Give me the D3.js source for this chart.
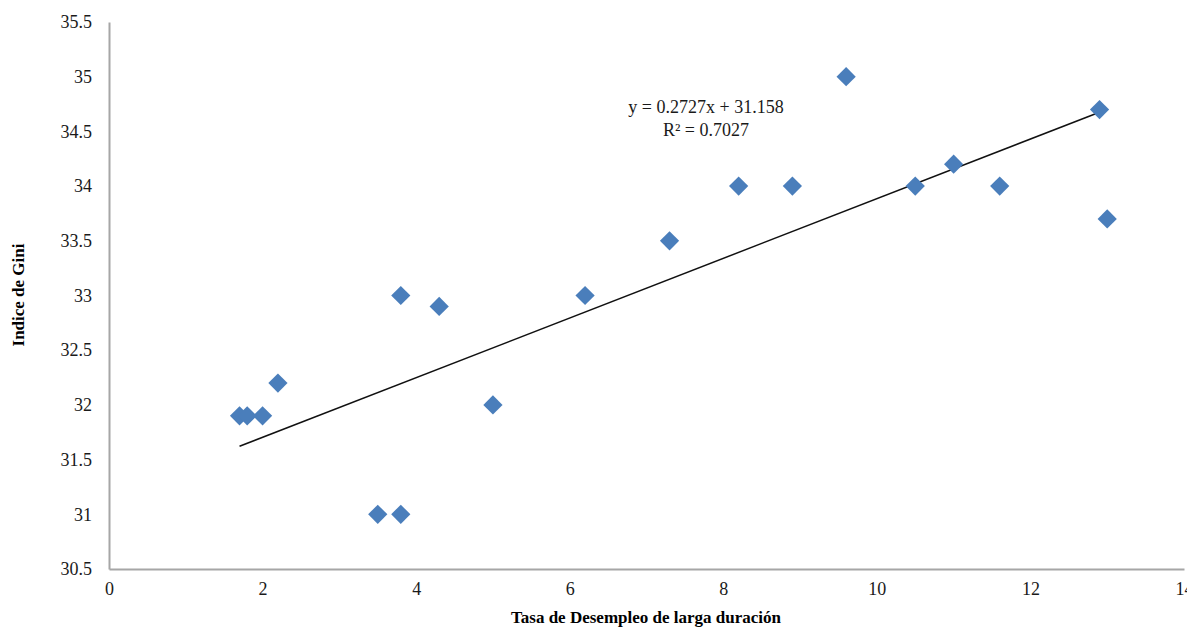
<!doctype html>
<html>
<head>
<script src="https://d3js.org/d3.v7.min.js"></script>
<style>
  body { margin: 0; background: #fff; }
  text { font-family: "Liberation Serif", "Times New Roman", serif; }
</style>
</head>
<body>
<svg width="1187" height="628"></svg>
<script>
// data
var desempleo = [1.7, 1.8, 2.0, 2.2, 3.5, 3.8, 3.8, 4.3, 5.0, 6.2, 7.3, 8.2, 8.9, 9.6, 10.5, 11.0, 11.6, 12.9, 13.0];
var gini      = [31.9, 31.9, 31.9, 32.2, 31.0, 31.0, 33.0, 32.9, 32.0, 33.0, 33.5, 34.0, 34.0, 35.0, 34.0, 34.2, 34.0, 34.7, 33.7];
var xTicks = [0, 2, 4, 6, 8, 10, 12, 14];
var yTicks = [30.5, 31, 31.5, 32, 32.5, 33, 33.5, 34, 34.5, 35, 35.5];
var slope = 0.2727, intercept = 31.158;
var eqLines = ["y = 0.2727x + 31.158", "R² = 0.7027"];

var svg = d3.select("svg");
var plotLeft = 109, plotRight = 1184, plotTop = 22, plotBottom = 569;

var x = d3.scaleLinear().domain([0, 14]).range([plotLeft, plotRight]);
var y = d3.scaleLinear().domain([30.5, 35.5]).range([plotBottom, plotTop]);

// axes
var xAxis = svg.append("g")
  .attr("transform", "translate(0," + plotBottom + ")")
  .call(d3.axisBottom(x).tickValues(xTicks).tickSize(0).tickPadding(13).tickFormat(d3.format("d")));
var yAxis = svg.append("g")
  .attr("transform", "translate(" + plotLeft + ",0)")
  .call(d3.axisLeft(y).tickValues(yTicks).tickSize(0).tickPadding(17).tickFormat(function(d) { return String(d); }));

[xAxis, yAxis].forEach(function(a) {
  a.select(".domain").attr("stroke", "#a6a6a6").attr("stroke-width", 2);
  a.selectAll("text").attr("fill", "#1a1a1a").style("font-size", "18px")
    .style("font-family", "'Liberation Serif', serif");
});
xAxis.selectAll("text").attr("dy", "0.71em");

// trend line
var xs = d3.extent(desempleo);
svg.append("line")
  .attr("x1", x(xs[0])).attr("y1", y(slope * xs[0] + intercept))
  .attr("x2", x(xs[1])).attr("y2", y(slope * xs[1] + intercept))
  .attr("stroke", "#111").attr("stroke-width", 1.5);

// diamonds
var pts = desempleo.map(function(d, i) { return { x: d, y: gini[i] }; });
svg.append("g").selectAll("path")
  .data(pts)
  .enter()
  .append("path")
  .attr("d", d3.symbol().type(d3.symbolSquare).size(185))
  .attr("transform", function(d) { return "translate(" + x(d.x) + "," + y(d.y) + ") rotate(45)"; })
  .attr("fill", "#4a7ebb");

// equation
svg.append("g").selectAll("text")
  .data(eqLines)
  .enter()
  .append("text")
  .attr("x", 706)
  .attr("y", function(d, i) { return 113 + i * 23; })
  .attr("text-anchor", "middle")
  .style("font-size", "18px")
  .attr("fill", "#1a1a1a")
  .text(function(d) { return d; });

// axis titles
svg.append("text")
  .attr("x", 646).attr("y", 623)
  .attr("text-anchor", "middle")
  .style("font-size", "17px").style("font-weight", "bold")
  .text("Tasa de Desempleo de larga duración");

svg.append("text")
  .attr("transform", "translate(24,295) rotate(-90)")
  .attr("text-anchor", "middle")
  .style("font-size", "17px").style("font-weight", "bold")
  .text("Indice de Gini");
</script>
</body>
</html>
